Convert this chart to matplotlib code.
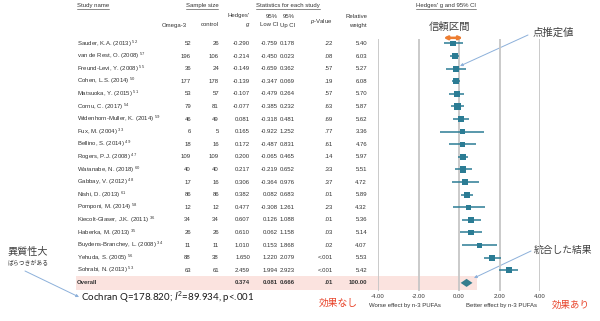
import numpy as np
import matplotlib.pyplot as plt
from matplotlib.patches import Rectangle, Polygon

plt.rcParams['font.family'] = ['Liberation Sans', 'DejaVu Sans']
plt.rcParams['mathtext.fontset'] = 'custom'
plt.rcParams['mathtext.rm'] = 'Liberation Sans'
plt.rcParams['mathtext.it'] = 'Liberation Sans:italic'

# ---- data ----
studies = ["Sauder, K.A. (2013)", "van de Rest, O. (2008)", "Freund-Levi, Y. (2008)",
           "Cohen, L.S. (2014)", "Matsuoka, Y. (2015)", "Cornu, C. (2017)",
           "Widenhorn-Muller, K. (2014)", "Fux, M. (2004)", "Bellino, S. (2014)",
           "Rogers, P.J. (2008)", "Watanabe, N. (2018)", "Gabbay, V. (2012)",
           "Nishi, D. (2013)", "Pomponi, M. (2014)", "Kiecolt-Glaser, J.K. (2011)",
           "Haberka, M. (2013)", "Buydens-Branchey, L. (2008)", "Yehuda, S. (2005)",
           "Sohrabi, N. (2013)"]
refs = [52, 57, 55, 50, 51, 54, 59, 33, 49, 47, 60, 48, 61, 58, 36, 35, 34, 56, 53]
n_omega = [52, 196, 36, 177, 53, 79, 46, 6, 18, 109, 40, 17, 86, 12, 34, 26, 11, 88, 63]
n_control = [26, 106, 24, 178, 57, 81, 49, 5, 16, 109, 40, 16, 86, 12, 34, 26, 11, 38, 61]
hedges_g = [-0.290, -0.214, -0.149, -0.139, -0.107, -0.077, 0.081, 0.165, 0.172, 0.200,
            0.217, 0.306, 0.382, 0.477, 0.607, 0.610, 1.010, 1.650, 2.459]
ci_low = [-0.759, -0.450, -0.659, -0.347, -0.479, -0.385, -0.318, -0.922, -0.487, -0.065,
          -0.219, -0.364, 0.082, -0.308, 0.126, 0.062, 0.153, 1.220, 1.994]
ci_up = [0.178, 0.023, 0.362, 0.069, 0.264, 0.232, 0.481, 1.252, 0.831, 0.465,
         0.652, 0.976, 0.683, 1.261, 1.088, 1.158, 1.868, 2.079, 2.923]
p_values = [".22", ".08", ".57", ".19", ".57", ".63", ".69", ".77", ".61", ".14",
            ".33", ".37", ".01", ".23", ".01", ".03", ".02", "<.001", "<.001"]
weights = [5.40, 6.03, 5.27, 6.08, 5.70, 5.87, 5.62, 3.36, 4.76, 5.97,
           5.51, 4.72, 5.89, 4.32, 5.36, 5.14, 4.07, 5.53, 5.42]
overall_g, overall_low, overall_up = 0.374, 0.081, 0.666
overall_p, overall_w = ".01", 100.00
x_ticks = [-4, -2, 0, 2, 4]
cochran_q, i_sq = 178.820, 89.934

W, H = 600, 321
teal = '#2b7c94'
txt = '#333333'
fs = 4.3

fig = plt.figure(figsize=(6, 3.21), dpi=100)
bg = fig.add_axes([0, 0, 1, 1])
bg.set_xlim(0, W)
bg.set_ylim(H, 0)
bg.axis('off')

row0, dy = 43.5, 12.6
n = len(studies)
rows = np.arange(n)
ov_row = n


def ypx(r):
    return row0 + dy * r


# pink band behind the overall row
bg.add_patch(Rectangle((76, ypx(ov_row) - 6.8), 477 - 76, 13.6,
                       facecolor='#fbe3df', edgecolor='none', zorder=0))

# ---- table ----
col_omega, col_ctrl, col_g, col_lo, col_up, col_p, col_w = 191, 219, 250, 278, 295, 333, 367

headers = []
headers.append(bg.text(77, 6, "Study name", fontsize=fs, color=txt, va='center'))
headers.append(bg.text(202, 6, "Sample size", fontsize=fs, color=txt, va='center', ha='center'))
headers.append(bg.text(288, 6, "Statistics for each study", fontsize=fs, color=txt,
                       va='center', ha='center'))
headers.append(bg.text(416, 6, "Hedges' g and 95% CI", fontsize=fs, color=txt, va='center'))

bg.text(col_omega - 4, 25, "Omega-3", fontsize=fs, color=txt, va='center', ha='right')
bg.text(col_ctrl, 25, "control", fontsize=fs, color=txt, va='center', ha='right')
bg.text(col_g, 16, "Hedges'", fontsize=fs, color=txt, va='center', ha='right')
bg.text(col_g, 25, "$g$", fontsize=fs, color=txt, va='center', ha='right')
bg.text(col_lo, 16, "95%", fontsize=fs, color=txt, va='center', ha='right')
bg.text(col_lo, 25, "Low CI", fontsize=fs, color=txt, va='center', ha='right')
bg.text(col_up, 16, "95%", fontsize=fs, color=txt, va='center', ha='right')
bg.text(col_up, 25, "Up CI", fontsize=fs, color=txt, va='center', ha='right')
bg.text(col_p, 21, "$p$-Value", fontsize=fs, color=txt, va='center', ha='right')
bg.text(col_w, 16, "Relative", fontsize=fs, color=txt, va='center', ha='right')
bg.text(col_w, 25, "weight", fontsize=fs, color=txt, va='center', ha='right')

for i in range(n):
    y = ypx(i)
    bg.text(77, y, studies[i] + " $^{%d}$" % refs[i], fontsize=fs, color=txt, va='center')
    bg.text(col_omega, y, str(n_omega[i]), fontsize=fs, color=txt, va='center', ha='right')
    bg.text(col_ctrl, y, str(n_control[i]), fontsize=fs, color=txt, va='center', ha='right')
    bg.text(col_g, y, "%.3f" % hedges_g[i], fontsize=fs, color=txt, va='center', ha='right')
    bg.text(col_lo, y, "%.3f" % ci_low[i], fontsize=fs, color=txt, va='center', ha='right')
    bg.text(col_up, y, "%.3f" % ci_up[i], fontsize=fs, color=txt, va='center', ha='right')
    bg.text(col_p, y, p_values[i], fontsize=fs, color=txt, va='center', ha='right')
    bg.text(col_w, y, "%.2f" % weights[i], fontsize=fs, color=txt, va='center', ha='right')

y = ypx(ov_row)
bold = dict(fontsize=fs, color=txt, va='center', ha='right', fontweight='bold')
bg.text(77, y, "Overall", fontsize=fs, color=txt, va='center', fontweight='bold')
bg.text(col_g, y, "%.3f" % overall_g, **bold)
bg.text(col_lo, y, "%.3f" % overall_low, **bold)
bg.text(col_up, y, "%.3f" % overall_up, **bold)
bg.text(col_p, y, overall_p, **bold)
bg.text(col_w, y, "%.2f" % overall_w, **bold)

# ---- forest plot ----
fx = fig.add_axes([378 / W, 1 - 291 / H, 162 / W, 252 / H])
fx.patch.set_visible(False)
fx.set_xlim(-4, 4)
fx.set_ylim((291 - row0) / dy, (39 - row0) / dy)
for s in fx.spines.values():
    s.set_visible(False)
fx.set_yticks([])
fx.set_xticks(x_ticks)
fx.set_xticklabels(["%.2f" % t for t in x_ticks])
fx.tick_params(axis='x', length=0, pad=2, labelsize=fs, labelcolor=txt)
for t in x_ticks:
    fx.axvline(t, color='#c6c6c6', lw=1.3, zorder=1)

fx.hlines(rows, ci_low, ci_up, color=teal, lw=1.1, zorder=3)
fx.scatter(hedges_g, rows, marker='s', s=np.array(weights) * 3.4, color=teal,
           edgecolors='none', zorder=4)
h = 0.32
fx.add_patch(Polygon([(overall_low, ov_row), (overall_g, ov_row - h),
                      (overall_up, ov_row), (overall_g, ov_row + h)],
                     closed=True, facecolor='#367d8d', edgecolor='none', zorder=4,
                     clip_on=False))

# confidence interval marker on the first study
fx.annotate("", xy=(ci_up[0], -0.45), xytext=(ci_low[0], -0.45),
            arrowprops=dict(arrowstyle='<|-|>', color='#ed7d31', lw=1.8,
                            mutation_scale=5, shrinkA=0, shrinkB=0),
            annotation_clip=False)

bg.text(405, 305, "Worse effect by n-3 PUFAs", fontsize=fs, color=txt, va='center', ha='center')
bg.text(501, 305, "Better effect by n-3 PUFAs", fontsize=fs, color=txt, va='center', ha='center')

# ---- japanese notes ----
jp = ['Noto Sans CJK JP', 'DejaVu Sans']
note = '#404040'
red = '#e8452c'
bg.text(450, 27, "信頼区間", fontsize=7.5, color=note, family=jp, ha='center', va='center')
bg.text(553, 33, "点推定値", fontsize=7.5, color=note, family=jp, ha='center', va='center')
bg.text(563, 250, "統合した結果", fontsize=7, color=note, family=jp, ha='center', va='center')
bg.text(28, 252, "異質性大", fontsize=7.3, color=note, family=jp, ha='center', va='center')
bg.text(28, 263, "ばらつきがある", fontsize=4.2, color=note, family=jp, ha='center', va='center')
bg.text(338, 303, "効果なし", fontsize=7, color=red, family=jp, ha='center', va='center')
bg.text(571, 305, "効果あり", fontsize=6.8, color=red, family=jp, ha='center', va='center')

arrow = dict(arrowstyle='-|>', color='#8cb0da', lw=0.7, mutation_scale=4,
             shrinkA=0, shrinkB=0)
bg.annotate("", xy=(460, 66), xytext=(528, 35), arrowprops=arrow)
bg.annotate("", xy=(474, 278), xytext=(531, 251), arrowprops=arrow)
bg.annotate("", xy=(79, 297), xytext=(25, 271), arrowprops=arrow)

bg.text(81, 297, "Cochran Q=%.3f; $I^2$=%.3f, p<.001" % (cochran_q, i_sq),
        fontsize=7, color='#1a1a1a', va='center', family=['Lato', 'DejaVu Sans'])

# underline the group headers
fig.canvas.draw()
inv = bg.transData.inverted()
for t in headers:
    bb = t.get_window_extent()
    (x0, y0), (x1, _) = inv.transform([(bb.x0, bb.y0), (bb.x1, bb.y1)])
    bg.plot([x0, x1], [y0 + 0.3, y0 + 0.3], color=txt, lw=0.4)

fig.savefig("out.png", dpi=100)
